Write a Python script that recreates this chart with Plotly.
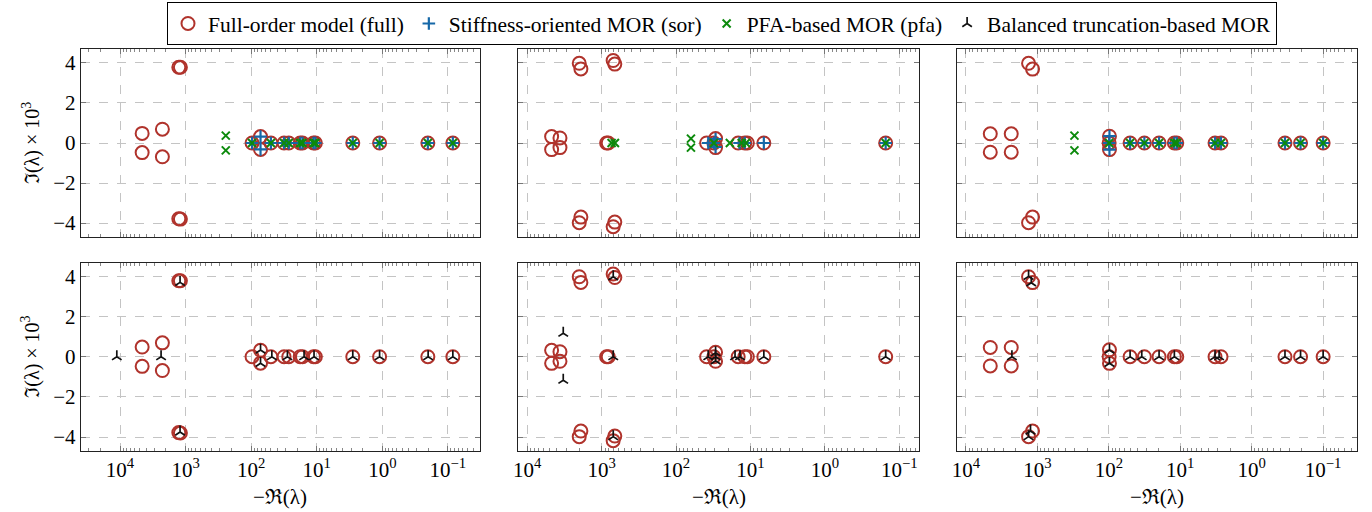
import plotly.graph_objects as go

# ---------------- data (x = -Re(lambda), y = Im(lambda) * 1e3) ----------------
# column 1
full1_x = [1270, 1270, 1200, 1200, 4600, 4600, 2260, 2260, 97, 72, 72, 50, 31.5, 26.7, 17.9, 16.5, 11.2, 10.5, 2.82, 1.10, 0.202, 0.084]
full1_y = [3.78, -3.78, 3.78, -3.80, 0.48, -0.48, 0.69, -0.69, 0, 0.32, -0.32, 0, 0, 0, 0, 0, 0, 0, 0, 0, 0, 0]
sor1_x = [97, 72, 72, 50, 31.5, 26.7, 17.9, 16.5, 11.2, 10.5, 2.82, 1.10, 0.202, 0.084]
sor1_y = [0, 0.32, -0.32, 0, 0, 0, 0, 0, 0, 0, 0, 0, 0, 0]
pfa1_x = [244, 244, 97, 50, 31.5, 26.7, 17.9, 16.5, 11.2, 10.5, 2.82, 1.10, 0.202, 0.084]
pfa1_y = [0.37, -0.37, 0, 0, 0, 0, 0, 0, 0, 0, 0, 0, 0, 0]
bt1_x = [11200, 2366, 1215, 1215, 72, 72, 48.4, 28, 15.6, 11, 2.82, 1.10, 0.2, 0.084]
bt1_y = [0, 0, 3.70, -3.75, 0.33, -0.33, 0, 0, 0, 0, 0, 0, 0, 0]

# column 2
full2_x = [2000, 2000, 1900, 1900, 700, 700, 665, 665, 4700, 4700, 3630, 3630, 857, 815, 38.8, 31, 29.4, 29.4, 14.6, 11.9, 11.0, 6.6, 0.152]
full2_y = [3.98, -3.98, 3.70, -3.70, 4.12, -4.18, 3.94, -3.95, 0.32, -0.33, 0.25, -0.23, 0, 0, 0, 0, 0.22, -0.23, 0, 0, 0, 0, 0]
sor2_x = [36.9, 31, 29.4, 29.4, 14, 11.9, 6.6, 0.152]
sor2_y = [0, 0, 0.2, -0.2, 0, 0, 0, 0]
pfa2_x = [63, 63, 735, 662, 31, 18.9, 13.1, 11.5, 0.152]
pfa2_y = [0.22, -0.23, 0, 0, 0, 0, 0, 0, 0]
bt2_x = [3280, 3280, 698, 698, 698, 36.9, 29.4, 29.4, 29.4, 16.1, 13.8, 6.6, 0.152]
bt2_y = [1.17, -1.17, 3.98, -3.98, 0, 0, 0.2, 0, -0.2, 0, 0, 0, 0]

# column 3
full3_x = [1330, 1330, 1170, 1170, 4570, 4570, 2325, 2325, 98, 99, 98, 50.4, 31.8, 19.8, 12.1, 11.2, 3.26, 2.69, 0.342, 0.207, 0.1]
full3_y = [3.98, -3.98, 3.69, -3.70, 0.46, -0.46, 0.46, -0.46, 0.34, 0, -0.33, 0, 0, 0, 0, 0, 0, 0, 0, 0, 0]
sor3_x = [98, 98, 99, 50.4, 31.8, 19.8, 12.1, 11.2, 3.26, 2.69, 0.342, 0.207, 0.1]
sor3_y = [0.34, -0.33, 0, 0, 0, 0, 0, 0, 0, 0, 0, 0, 0]
pfa3_x = [303, 303, 99, 50.4, 31.8, 19.8, 12.1, 11.2, 3.26, 2.69, 0.342, 0.207, 0.1]
pfa3_y = [0.37, -0.37, 0, 0, 0, 0, 0, 0, 0, 0, 0, 0, 0]
bt3_x = [1330, 1220, 1250, 1330, 2275, 98, 98, 50.4, 34.6, 19.8, 12.1, 3.26, 2.86, 0.342, 0.207, 0.1]
bt3_y = [4.0, 3.68, -3.70, -3.98, 0, 0.33, -0.33, 0, 0, 0, 0, 0, 0, 0, 0, 0]

x_tickvals = [1e4, 1e3, 1e2, 1e1, 1e0, 1e-1]
x_ticktext = ["10<sup>4</sup>", "10<sup>3</sup>", "10<sup>2</sup>", "10<sup>1</sup>", "10<sup>0</sup>", "10<sup>\u22121</sup>"]
y_tickvals = [-4, -2, 0, 2, 4]

names = ["Full-order model (full)", "Stiffness-oriented MOR (sor)", "PFA-based MOR (pfa)", "Balanced truncation-based MOR"]
x_title = "\u2212\u211c(\u03bb)"
y_title = "\u2111(\u03bb) \u00d7 10<sup>3</sup>"

# ---------------- styling ----------------
FONT = "Liberation Serif"
RED = "#b0332c"
BLUE = "#1668a8"
GREEN = "#0c8a0c"
BLACK = "#111111"
W, H = 1372, 512


def px(v):
    return v / W


def py(v):
    return 1 - v / H


xdoms = [[px(80.7), px(480)], [px(518.3), px(919.3)], [px(956.7), px(1356.7)]]
ydoms = [[py(236.7), py(49.3)], [py(450.7), py(262.7)]]
xranges = [[4.6, -1.49], [4.12, -1.27], [4.13, -1.47]]
yrange = [-4.68, 4.68]

full = [(full1_x, full1_y), (full2_x, full2_y), (full3_x, full3_y)]
sor = [(sor1_x, sor1_y), (sor2_x, sor2_y), (sor3_x, sor3_y)]
pfa = [(pfa1_x, pfa1_y), (pfa2_x, pfa2_y), (pfa3_x, pfa3_y)]
bt = [(bt1_x, bt1_y), (bt2_x, bt2_y), (bt3_x, bt3_y)]

fig = go.Figure()
marker_full = dict(symbol="circle-open", size=13, color=RED, line=dict(width=2, color=RED))
marker_sor = dict(symbol="cross-thin-open", size=9, color=BLUE, line=dict(width=2.2, color=BLUE))
marker_pfa = dict(symbol="x-thin-open", size=8, color=GREEN, line=dict(width=2, color=GREEN))
marker_bt = dict(symbol="y-up", size=8, color=BLACK, line=dict(width=1.7, color=BLACK))

shown = set()


def add(xy, name, marker, idx):
    fig.add_trace(go.Scatter(
        x=xy[0], y=xy[1], mode="markers", name=name, marker=marker,
        showlegend=name not in shown,
        xaxis="x" if idx == 1 else f"x{idx}", yaxis="y" if idx == 1 else f"y{idx}",
    ))
    shown.add(name)


for c in range(3):
    top = c + 1
    add(full[c], names[0], marker_full, top)
    add(sor[c], names[1], marker_sor, top)
    add(pfa[c], names[2], marker_pfa, top)
for c in range(3):
    bot = c + 4
    add(full[c], names[0], marker_full, bot)
    add(bt[c], names[3], marker_bt, bot)

TICKFONT = dict(size=21, family=FONT, color="black")
layout = dict(
    width=W, height=H,
    margin=dict(l=0, r=0, t=0, b=0, autoexpand=False),
    paper_bgcolor="white", plot_bgcolor="white",
    font=dict(family=FONT, size=20, color="black"),
    legend=dict(
        orientation="h", x=px(722), xanchor="center", y=py(2), yanchor="top",
        bordercolor="black", borderwidth=1, font=dict(size=21.5, family=FONT),
        itemwidth=30, bgcolor="white", traceorder="normal",
    ),
    showlegend=True,
)
for i in range(6):
    r, c = divmod(i, 3)
    idx = i + 1
    xk = "xaxis" if idx == 1 else f"xaxis{idx}"
    yk = "yaxis" if idx == 1 else f"yaxis{idx}"
    layout[xk] = dict(
        type="log", domain=xdoms[c], range=xranges[c], anchor="y" if idx == 1 else f"y{idx}",
        tickmode="array", tickvals=x_tickvals, ticktext=x_ticktext,
        showticklabels=(r == 1), tickfont=TICKFONT,
        ticks="inside", ticklen=5, tickcolor="#777777", tickwidth=1,
        minor=dict(ticks="inside", ticklen=3, tickcolor="#888888", dtick="D1", showgrid=False),
        showgrid=True, gridcolor="#c4c4c4", griddash="dash", gridwidth=1,
        showline=True, linecolor="#222222", linewidth=1, mirror="allticks",
        zeroline=False, automargin=False,
    )
    layout[yk] = dict(
        domain=ydoms[r], range=yrange, anchor="x" if idx == 1 else f"x{idx}",
        tickmode="array", tickvals=y_tickvals,
        showticklabels=(c == 0), tickfont=TICKFONT,
        ticks="inside", ticklen=5, tickcolor="#777777",
        showgrid=True, gridcolor="#c4c4c4", griddash="dash", gridwidth=1,
        showline=True, linecolor="#222222", linewidth=1, mirror="allticks",
        zeroline=False, automargin=False,
    )
fig.update_layout(**layout)

ann = []
for c in range(3):
    cx = (xdoms[c][0] + xdoms[c][1]) / 2
    ann.append(dict(text=x_title, x=cx, y=py(497), xref="paper", yref="paper",
                    showarrow=False, font=dict(size=21, family=FONT), xanchor="center", yanchor="middle"))
for r in range(2):
    cy = (ydoms[r][0] + ydoms[r][1]) / 2
    ann.append(dict(text=y_title, x=px(31), y=cy, xref="paper", yref="paper", textangle=-90,
                    showarrow=False, font=dict(size=20, family=FONT), xanchor="center", yanchor="middle"))
fig.update_layout(annotations=ann)

fig.write_html(
    "out.html",
    config={"displayModeBar": False},
    post_script="document.body.style.margin='0px';document.body.style.padding='0px';",
)
